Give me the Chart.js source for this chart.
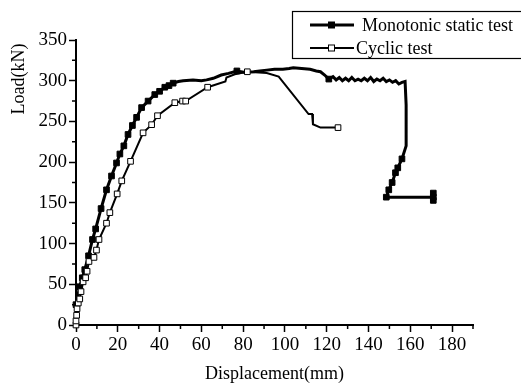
<!DOCTYPE html>
<html>
<head>
<meta charset="utf-8">
<script src="https://cdn.jsdelivr.net/npm/chart.js@4"></script>
<style>
  body { margin: 0; background: #fff; }
  #wrap { width: 521px; height: 383px; }
</style>
</head>
<body>
<div id="wrap"><canvas id="grafica" width="521" height="383"></canvas></div>
<script>
// data
const monoDisp = [0, 1.8, 3, 4.2, 6, 7.9, 9.4, 12, 14.6, 17, 19.4, 21, 22.9, 24.9, 27, 29, 31.4, 34.5, 37.7, 40, 42.5, 44.5, 46.5,
  49, 51.3, 56, 60, 62.5, 65.7, 69.5, 73, 77, 81, 85, 88, 91.3, 95, 99, 102, 104, 108, 112, 115, 117, 119, 121,
  123, 124.5, 126, 127.5, 129, 130.5, 132, 133.5, 135, 136.5, 138, 139.5, 141, 142.5, 144, 145.5, 147, 148.5, 150, 151.5, 153, 154.5, 156, 157.5,
  158, 158, 158, 156, 154, 152.9, 151.3, 149.7, 148.5, 171, 171, 171];
const monoLoad = [25, 47, 58, 68, 85, 105, 118, 143, 166, 183, 199, 210, 220, 234, 245, 255, 267, 275, 283, 287, 292, 294, 297,
  299, 300, 301, 300, 301, 303, 307, 309, 312, 310, 311, 312, 313, 314, 314, 315, 316, 315, 314, 312, 311, 307, 302,
  305, 301, 304, 300, 303, 300, 304, 300, 302, 300, 303, 300, 304, 299, 302, 300, 303, 299, 301, 298, 300, 296, 298, 299,
  270, 240, 220, 204, 193, 187, 175, 166, 157, 157, 162, 153];

const cycDisp = [0, 0, 0.3, 0.5, 1.1, 1.8, 2.4, 3.4, 4.6, 5.3, 6.2, 8.6, 9.8, 11, 14.6, 16.2, 19.7, 21.9, 26.1, 32.1, 36.2, 39,
  47.3, 51, 52.5, 63, 71.5, 72, 76, 82, 91.3, 97, 111.3, 113, 113.4, 117, 125.4];
const cycLoad = [0, 5, 12, 20, 27, 32, 41, 53, 58, 66, 78, 83, 92, 105, 125, 138, 161, 177, 201, 236, 246, 257,
  273, 275, 275, 292, 299, 304, 308, 311, 309.5, 305, 259, 259, 246.5, 242.4, 242.4];

const xTicks = [0, 20, 40, 60, 80, 100, 120, 140, 160, 180];
const yTicks = [0, 50, 100, 150, 200, 250, 300, 350];
const labels = ['Monotonic static test', 'Cyclic test'];

const FONT = 'Liberation Serif';

function pts(xs, ys) {
  return xs.map((x, i) => ({ x: x, y: ys[i] }));
}

// minor ticks, axis titles, boxed legend
const extras = {
  id: 'extras',
  afterDraw(chart) {
    const c = chart.ctx;
    const xs = chart.scales.x, ys = chart.scales.y;
    c.save();
    c.strokeStyle = '#000';
    c.lineWidth = 1.5;
    c.beginPath();
    for (let v = 10; v <= 190; v += 20) {
      const px = xs.getPixelForValue(v);
      c.moveTo(px, ys.bottom); c.lineTo(px, ys.bottom + 4);
    }
    for (let v = 25; v <= 350; v += 50) {
      const py = ys.getPixelForValue(v);
      c.moveTo(xs.left, py); c.lineTo(xs.left - 4, py);
    }
    c.stroke();

    c.fillStyle = '#000';
    c.font = '18px "' + FONT + '"';
    c.textAlign = 'center';
    c.textBaseline = 'middle';
    c.fillText('Displacement(mm)', (xs.left + xs.right) / 2, 374);
    c.save();
    c.translate(19, 79);
    c.rotate(-Math.PI / 2);
    c.fillText('Load(kN)', 0, 0);
    c.restore();

    // legend box
    c.lineWidth = 1.2;
    c.strokeRect(292.5, 11.5, 240, 47);
    const rows = [25, 48];
    const txtX = [362, 356];
    chart.data.datasets.forEach((ds) => {
      const y = rows[ds.legendRow];
      c.lineWidth = ds.borderWidth;
      c.beginPath();
      c.moveTo(310, y); c.lineTo(354, y);
      c.stroke();
      c.fillStyle = ds.pointBackgroundColor;
      c.lineWidth = 1;
      c.fillRect(328.5, y - 3, 6, 6);
      c.strokeRect(328.5, y - 3, 6, 6);
      c.fillStyle = '#000';
      c.textAlign = 'left';
      c.fillText(ds.label, txtX[ds.legendRow], y + 1);
    });
    c.restore();
  }
};

const ctx = document.getElementById('grafica').getContext('2d');

let ch = new Chart(ctx, {
  type: 'scatter',
  data: {
    datasets: [{
      label: labels[0],
      legendRow: 0,
      data: pts(monoDisp, monoLoad),
      showLine: true,
      borderColor: '#000',
      borderWidth: 3,
      pointStyle: 'rect',
      pointBackgroundColor: '#000',
      pointBorderColor: '#000',
      pointBorderWidth: 1,
      pointRadius: function(c) {
        const p = c.raw;
        if (!p) return 0;
        return (p.x < 48 || p.x === 77 || p.x === 121 || (p.x > 148 && p.y < 210)) ? 4 : 0;
      },
      clip: false,
      order: 1
    }, {
      label: labels[1],
      legendRow: 1,
      data: pts(cycDisp, cycLoad),
      showLine: true,
      borderColor: '#000',
      borderWidth: 2,
      pointStyle: 'rect',
      pointBackgroundColor: '#fff',
      pointBorderColor: '#000',
      pointBorderWidth: 1,
      pointRadius: function(c) {
        const p = c.raw;
        if (!p) return 0;
        return (p.x <= 63.5 || p.x === 82 || p.x === 125.4) ? 4 : 0;
      },
      clip: false,
      order: 0
    }]
  },
  options: {
    responsive: false,
    animation: false,
    devicePixelRatio: 1,
    layout: { padding: { top: 40, right: 48, left: 0, bottom: 0 } },
    plugins: {
      legend: { display: false },
      tooltip: { enabled: false }
    },
    scales: {
      x: {
        type: 'linear',
        min: 0,
        max: 190,
        afterFit: function(s) { s.height = 58; },
        afterBuildTicks: function(s) { s.ticks = xTicks.map(v => ({ value: v })); },
        border: { display: true, color: '#000', width: 2 },
        grid: { drawOnChartArea: false, tickLength: 7, tickColor: '#000', tickWidth: 1.5 },
        ticks: { color: '#000', font: { family: FONT, size: 19 }, padding: 2, maxRotation: 0 }
      },
      y: {
        type: 'linear',
        min: 0,
        max: 350,
        afterFit: function(s) { s.width = 76; },
        afterBuildTicks: function(s) { s.ticks = yTicks.map(v => ({ value: v })); },
        border: { display: true, color: '#000', width: 2 },
        grid: { drawOnChartArea: false, tickLength: 7, tickColor: '#000', tickWidth: 1.5 },
        ticks: { color: '#000', font: { family: FONT, size: 19 }, padding: 2 }
      }
    }
  },
  plugins: [extras]
});
</script>
</body>
</html>
